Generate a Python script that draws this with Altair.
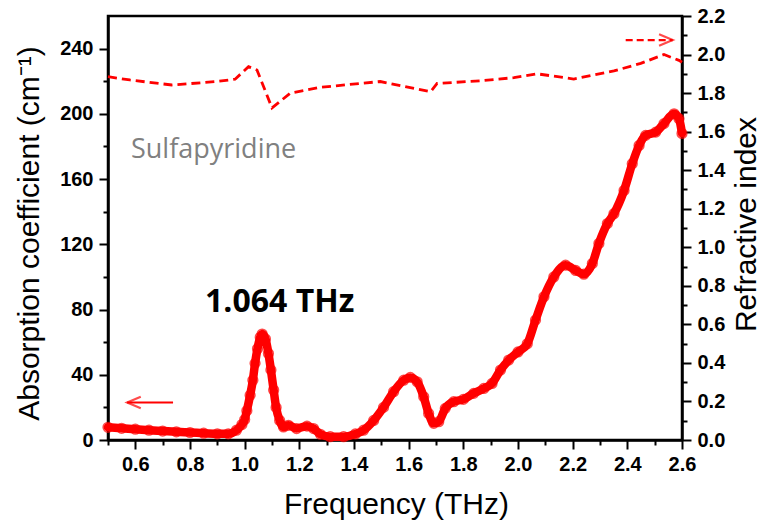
import altair as alt
import pandas as pd

# Absorption coefficient (cm^-1) versus frequency (THz)
FREQ_ABS = [0.50, 0.55, 0.60, 0.65, 0.70, 0.75, 0.80, 0.85, 0.90, 0.94,
            0.97, 0.99, 1.00, 1.008, 1.02, 1.03, 1.038, 1.047, 1.057, 1.064,
            1.076, 1.087, 1.096, 1.106, 1.115, 1.128, 1.142, 1.16, 1.19, 1.228,
            1.252, 1.277, 1.313, 1.362, 1.405, 1.435, 1.472, 1.508, 1.545, 1.582,
            1.606, 1.631, 1.655, 1.673, 1.692, 1.71, 1.734, 1.765, 1.80, 1.838,
            1.875, 1.905, 1.936, 1.966, 2.0, 2.034, 2.064, 2.095, 2.131, 2.174,
            2.211, 2.241, 2.272, 2.296, 2.327, 2.351, 2.388, 2.418, 2.443, 2.467,
            2.504, 2.534, 2.571, 2.589, 2.60]
ALPHA = [7.8, 7.2, 6.6, 6.0, 5.5, 5.0, 4.6, 4.2, 3.8, 3.8,
         6.0, 9.5, 12.5, 18.0, 27.5, 36.7, 47.0, 56.0, 63.0, 65.0,
         62.0, 53.0, 43.0, 30.6, 20.0, 12.0, 8.0, 9.0, 7.0, 8.5,
         7.0, 3.5, 2.0, 2.0, 3.7, 6.0, 12.0, 20.0, 29.6, 36.7,
         38.4, 35.7, 26.5, 16.3, 10.2, 11.2, 19.4, 23.5, 24.9, 28.6,
         31.6, 34.7, 42.9, 49.0, 54.0, 59.0, 73.5, 87.8, 100.0, 107.2,
         104.0, 101.7, 108.2, 120.5, 132.7, 138.8, 153.0, 169.4, 180.6, 186.8,
         188.8, 194.0, 200.0, 197.0, 188.0]

# Refractive index versus frequency (THz)
FREQ_N = [0.50, 0.58, 0.734, 0.898, 0.965, 1.014, 1.045, 1.10, 1.167, 1.277,
          1.496, 1.68, 1.704, 1.863, 1.985, 2.07, 2.204, 2.351, 2.449, 2.534,
          2.589, 2.60]
REFR = [1.885, 1.868, 1.842, 1.86, 1.872, 1.937, 1.92, 1.723, 1.80, 1.83,
        1.86, 1.807, 1.85, 1.864, 1.88, 1.90, 1.873, 1.915, 1.954, 2.00,
        1.97, 1.96]

# Arrows telling which axis each curve belongs to
LEFT_ARROW_FREQ = [0.57, 0.738]
LEFT_ARROW_ALPHA = 23
RIGHT_ARROW_FREQ = [2.394, 2.566]
RIGHT_ARROW_N = 2.075

# Annotations
PEAK_LABEL = "1.064 THz"
PEAK_LABEL_POS = (0.855, 78.4)
SAMPLE_LABEL = "Sulfapyridine"
SAMPLE_LABEL_POS = (0.584, 172.7)

# Axis tick values
X_MAJOR = [0.6, 0.8, 1.0, 1.2, 1.4, 1.6, 1.8, 2.0, 2.2, 2.4, 2.6]
X_MINOR = [0.5, 0.7, 0.9, 1.1, 1.3, 1.5, 1.7, 1.9, 2.1, 2.3, 2.5]
A_MAJOR = [0, 40, 80, 120, 160, 200, 240]
A_MINOR = [20, 60, 100, 140, 180, 220]
N_MAJOR = [0.0, 0.2, 0.4, 0.6, 0.8, 1.0, 1.2, 1.4, 1.6, 1.8, 2.0, 2.2]
N_MINOR = [0.1, 0.3, 0.5, 0.7, 0.9, 1.1, 1.3, 1.5, 1.7, 1.9, 2.1]

FONT = "Liberation Sans"
RED = "#ff0000"
W, H = 574, 424

x_scale = alt.Scale(domain=[0.5, 2.6], nice=False, zero=False)
a_scale = alt.Scale(domain=[0, 260], nice=False)
n_scale = alt.Scale(domain=[0, 2.2], nice=False)

common = dict(grid=False, domainColor="black", tickColor="black", tickWidth=2,
              labelFont=FONT, labelFontSize=20, labelFontWeight="bold",
              labelColor="black", labelOverlap=False, labelFlush=False,
              titleFont=FONT, titleFontSize=30, titleFontWeight="normal",
              titleColor="black")

x_axis_major = alt.Axis(orient="bottom", values=X_MAJOR, format=".1f", tickSize=9,
                        labelPadding=5, domainWidth=2.5,
                        title="Frequency (THz)", titleX=288, titleY=73,
                        titleAlign="center", titleBaseline="alphabetic", **common)
x_axis_minor = alt.Axis(orient="bottom", values=X_MINOR, tickSize=5, labels=False,
                        domain=False, title=None, grid=False, tickColor="black",
                        tickWidth=2)

a_axis_major = alt.Axis(orient="left", values=A_MAJOR, tickSize=9, labelPadding=6,
                        domainWidth=2.5,
                        title="Absorption coefficient (cm\u207b\u00b9)",
                        titleX=-79, titleY=217, titleAngle=270,
                        titleAlign="center", titleBaseline="middle", **common)
a_axis_minor = alt.Axis(orient="left", values=A_MINOR, tickSize=5, labels=False,
                        domain=False, title=None, grid=False, tickColor="black",
                        tickWidth=2)

n_axis_major = alt.Axis(orient="right", values=N_MAJOR, format=".1f", tickSize=9,
                        labelPadding=6, domainWidth=2.5,
                        title="Refractive index", titleX=64, titleY=208,
                        titleAngle=270, titleAlign="center",
                        titleBaseline="middle", **common)
n_axis_minor = alt.Axis(orient="right", values=N_MINOR, tickSize=5, labels=False,
                        domain=False, title=None, grid=False, tickColor="black",
                        tickWidth=2)

abs_df = pd.DataFrame({"freq": FREQ_ABS, "alpha": ALPHA})
n_df = pd.DataFrame({"freq": FREQ_N, "n": REFR})

# Absorption curve: thick band of open circles
abs_line = alt.Chart(abs_df).mark_line(
    color=RED, strokeWidth=8.5, interpolate="monotone",
    strokeJoin="round", strokeCap="round"
).encode(
    x=alt.X("freq:Q", scale=x_scale, axis=x_axis_major),
    y=alt.Y("alpha:Q", scale=a_scale, axis=a_axis_major),
)
abs_pts = alt.Chart(abs_df).mark_point(
    shape="circle", filled=False, color=RED, size=95, strokeWidth=1.5
).encode(
    x=alt.X("freq:Q", scale=x_scale, axis=x_axis_minor),
    y=alt.Y("alpha:Q", scale=a_scale, axis=a_axis_minor),
)

# Refractive index: dashed line on the right-hand scale
n_line = alt.Chart(n_df).mark_line(color=RED, strokeWidth=2.8, strokeDash=[9, 5]).encode(
    x=alt.X("freq:Q", scale=x_scale, axis=None),
    y=alt.Y("n:Q", scale=n_scale, axis=n_axis_major),
)
n_minor = alt.Chart(n_df).mark_point(opacity=0).encode(
    x=alt.X("freq:Q", scale=x_scale, axis=None),
    y=alt.Y("n:Q", scale=n_scale, axis=n_axis_minor),
)

# Left arrow (solid) pointing to the absorption axis
la_df = pd.DataFrame({"f0": [LEFT_ARROW_FREQ[0]], "f1": [LEFT_ARROW_FREQ[1]],
                      "v": [LEFT_ARROW_ALPHA]})
la_rule = alt.Chart(la_df).mark_rule(color=RED, strokeWidth=2).encode(
    x=alt.X("f0:Q", scale=x_scale, axis=None), x2="f1:Q",
    y=alt.Y("v:Q", scale=a_scale, axis=None),
)
la_head = alt.Chart(la_df).mark_point(
    shape="M2.6,-1.1L0,0L2.6,1.1", filled=False, color=RED, size=110, strokeWidth=2.2
).encode(
    x=alt.X("f0:Q", scale=x_scale, axis=None),
    y=alt.Y("v:Q", scale=a_scale, axis=None),
)

# Right arrow (dashed) pointing to the refractive-index axis
ra_df = pd.DataFrame({"f0": [RIGHT_ARROW_FREQ[0]], "f1": [RIGHT_ARROW_FREQ[1]],
                      "v": [RIGHT_ARROW_N]})
ra_rule = alt.Chart(ra_df).mark_rule(color=RED, strokeWidth=2.2, strokeDash=[7, 4]).encode(
    x=alt.X("f0:Q", scale=x_scale, axis=None), x2="f1:Q",
    y=alt.Y("v:Q", scale=n_scale, axis=None),
)
ra_head = alt.Chart(ra_df).mark_point(
    shape="M-2.6,-1.1L0,0L-2.6,1.1", filled=False, color=RED, size=110, strokeWidth=2.2
).encode(
    x=alt.X("f1:Q", scale=x_scale, axis=None),
    y=alt.Y("v:Q", scale=n_scale, axis=None),
)

# Text annotations
peak_df = pd.DataFrame({"f": [PEAK_LABEL_POS[0]], "v": [PEAK_LABEL_POS[1]],
                        "t": [PEAK_LABEL]})
peak_txt = alt.Chart(peak_df).mark_text(
    font="Open Sans", fontSize=32, fontWeight="bold", color="black",
    align="left", baseline="alphabetic"
).encode(
    x=alt.X("f:Q", scale=x_scale, axis=None),
    y=alt.Y("v:Q", scale=a_scale, axis=None),
    text="t:N",
)
name_df = pd.DataFrame({"f": [SAMPLE_LABEL_POS[0]], "v": [SAMPLE_LABEL_POS[1]],
                        "t": [SAMPLE_LABEL]})
name_txt = alt.Chart(name_df).mark_text(
    font="Open Sans", fontSize=27, color="#808080",
    align="left", baseline="alphabetic"
).encode(
    x=alt.X("f:Q", scale=x_scale, axis=None),
    y=alt.Y("v:Q", scale=a_scale, axis=None),
    text="t:N",
)

chart = alt.layer(
    n_line, n_minor, abs_line, abs_pts, la_rule, la_head, ra_rule, ra_head,
    peak_txt, name_txt,
).resolve_scale(
    y="independent"
).resolve_axis(
    x="independent", y="independent"
).properties(
    width=W, height=H,
    autosize=alt.AutoSizeParams(type="none"),
    padding={"left": 108, "top": 16, "right": 80, "bottom": 87},
    background="white",
).configure_view(
    stroke="black", strokeWidth=2.5
).configure_axis(
    grid=False
)

chart.save("out.html", embed_options={"renderer": "svg", "actions": False})
